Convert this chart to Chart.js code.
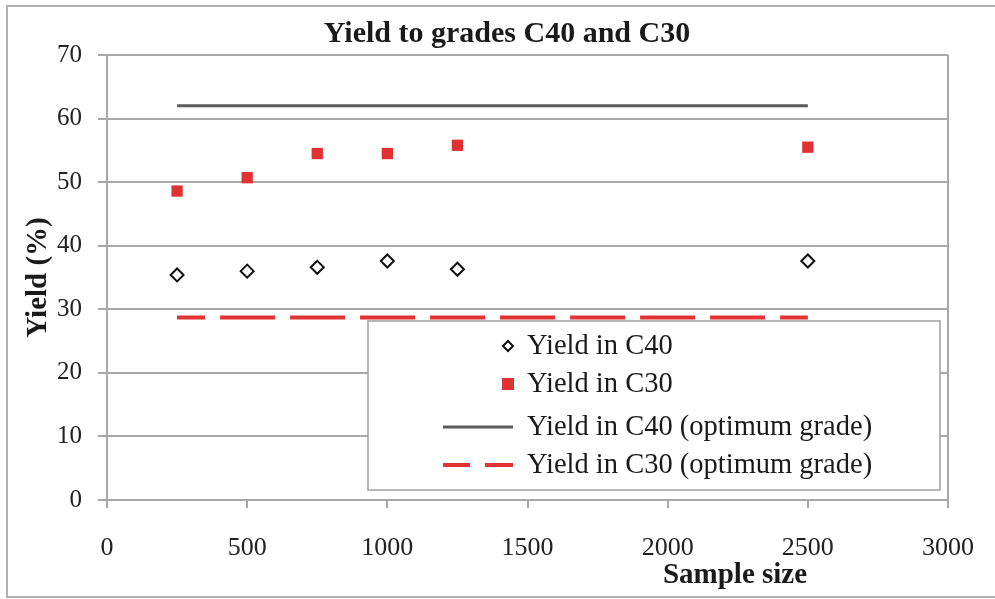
<!DOCTYPE html>
<html>
<head>
<meta charset="utf-8">
<script src="https://cdn.jsdelivr.net/npm/chart.js@4"></script>
<style>
html,body{margin:0;padding:0;background:#fff;}
#wrap{position:relative;width:995px;height:599px;}
canvas{display:block;}
</style>
</head>
<body>
<div id="wrap"><canvas id="c" width="995" height="599"></canvas></div>
<script>
// ---- data ----
const sampleSizes = [250, 500, 750, 1000, 1250, 2500];
const yieldC40 = [35.4, 36.0, 36.6, 37.6, 36.3, 37.6];
const yieldC30 = [48.6, 50.7, 54.5, 54.5, 55.8, 55.5];
const optimumRange = [250, 2500];
const optimumC40 = 62.0;
const optimumC30 = 28.7;
const xTicks = [0, 500, 1000, 1500, 2000, 2500, 3000];
const yTicks = [0, 10, 20, 30, 40, 50, 60, 70];
const seriesLabels = ['Yield in C40', 'Yield in C30', 'Yield in C40 (optimum grade)', 'Yield in C30 (optimum grade)'];
const chartTitle = 'Yield to grades C40 and C30';
const xTitle = 'Sample size';
const yTitle = 'Yield (%)';

const SERIF = '"Liberation Serif", "Times New Roman", serif';
const GRID = '#a8a8a8';
const RED = '#e03232';

const pts = (xs, ys) => xs.map((x, i) => ({x: x, y: ys[i]}));

const decorPlugin = {
  id: 'decor',
  beforeDraw(chart) {
    const c = chart.ctx;
    c.save();
    c.fillStyle = '#fff';
    c.fillRect(0, 0, chart.width, chart.height);
    c.strokeStyle = '#b0b0b0';
    c.lineWidth = 2;
    c.beginPath();
    c.moveTo(1000, 6); c.lineTo(7, 6); c.lineTo(7, 597); c.lineTo(1000, 597);
    c.stroke();
    c.restore();
  },
  afterDraw(chart) {
    const c = chart.ctx;
    const a = chart.chartArea;
    c.save();
    c.fillStyle = '#1a1a1a';
    c.textAlign = 'center';
    c.textBaseline = 'middle';
    c.font = 'bold 30px ' + SERIF;
    c.fillText(chartTitle, 507, 34);
    c.font = 'bold 29px ' + SERIF;
    c.fillText(xTitle, 735, 576);
    c.translate(39, (a.top + a.bottom) / 2);
    c.rotate(-Math.PI / 2);
    c.fillText(yTitle, 0, 0);
    c.restore();

    // legend
    const bx = 368, by = 321, bw = 572, bh = 169;
    c.save();
    c.fillStyle = '#fff';
    c.fillRect(bx, by, bw, bh);
    c.strokeStyle = '#a0a0a0';
    c.lineWidth = 1.5;
    c.strokeRect(bx, by, bw, bh);
    const rows = [346, 384, 427, 465];
    const ds = chart.data.datasets;
    c.font = '28.5px ' + SERIF;
    c.textAlign = 'left';
    c.textBaseline = 'middle';
    ds.forEach((d, i) => {
      const y = rows[i];
      if (i === 0) {
        c.strokeStyle = '#111'; c.lineWidth = 2; c.fillStyle = '#fff';
        c.beginPath();
        c.moveTo(508, y - 5); c.lineTo(513, y); c.lineTo(508, y + 5); c.lineTo(503, y); c.closePath();
        c.fill(); c.stroke();
      } else if (i === 1) {
        c.fillStyle = d.backgroundColor;
        c.fillRect(502, y - 6, 12, 12);
      } else {
        c.strokeStyle = d.borderColor; c.lineWidth = d.borderWidth;
        c.setLineDash(d.borderDash || []);
        c.lineDashOffset = 28;
        c.beginPath(); c.moveTo(443, y); c.lineTo(513, y); c.stroke();
        c.setLineDash([]);
      }
      c.fillStyle = '#1a1a1a';
      c.fillText(d.label, 527, y + 1);
    });
    c.restore();
  }
};

new Chart(document.getElementById('c'), {
  type: 'scatter',
  data: {
    datasets: [
      {
        label: seriesLabels[0],
        data: pts(sampleSizes, yieldC40),
        pointStyle: 'rectRot',
        pointRadius: 6.5,
        pointBorderWidth: 2,
        pointBackgroundColor: '#fff',
        pointBorderColor: '#111',
        order: 1
      },
      {
        label: seriesLabels[1],
        data: pts(sampleSizes, yieldC30),
        pointStyle: 'rect',
        pointRadius: 8,
        pointBorderWidth: 0,
        backgroundColor: RED,
        pointBackgroundColor: RED,
        pointBorderColor: RED,
        order: 1
      },
      {
        label: seriesLabels[2],
        type: 'line',
        data: optimumRange.map(x => ({x: x, y: optimumC40})),
        borderColor: '#5a5a5a',
        borderWidth: 3,
        pointRadius: 0,
        fill: false,
        order: 2
      },
      {
        label: seriesLabels[3],
        type: 'line',
        data: optimumRange.map(x => ({x: x, y: optimumC30})),
        borderColor: RED,
        borderWidth: 4,
        borderDash: [55, 15],
        borderDashOffset: 27,
        pointRadius: 0,
        fill: false,
        order: 2
      }
    ]
  },
  options: {
    responsive: false,
    animation: false,
    layout: {padding: {left: 0, right: 47, top: 55, bottom: 0}},
    plugins: {legend: {display: false}, title: {display: false}, tooltip: {enabled: false}},
    scales: {
      x: {
        type: 'linear',
        min: 0, max: 3000,
        afterFit: s => { s.height = 99; s.paddingRight = 0; s.paddingLeft = 0; },
        afterBuildTicks: s => { s.ticks = xTicks.map(v => ({value: v})); },
        border: {display: true, color: GRID, width: 2},
        grid: {
          drawOnChartArea: true,
          color: ctx => (ctx.tick && ctx.tick.value === 3000) ? GRID : 'rgba(0,0,0,0)',
          tickColor: GRID,
          lineWidth: 2,
          tickLength: 8
        },
        ticks: {color: '#222', font: {family: SERIF, size: 26}, padding: 25, maxRotation: 0,
                callback: v => String(v)}
      },
      y: {
        type: 'linear',
        min: 0, max: 70,
        afterFit: s => { s.width = 107; },
        afterBuildTicks: s => { s.ticks = yTicks.map(v => ({value: v})); },
        border: {display: true, color: GRID, width: 2},
        grid: {color: GRID, lineWidth: 2, tickLength: 9, tickColor: GRID},
        ticks: {color: '#222', font: {family: SERIF, size: 25}, padding: 16}
      }
    }
  },
  plugins: [decorPlugin]
});
</script>
</body>
</html>
